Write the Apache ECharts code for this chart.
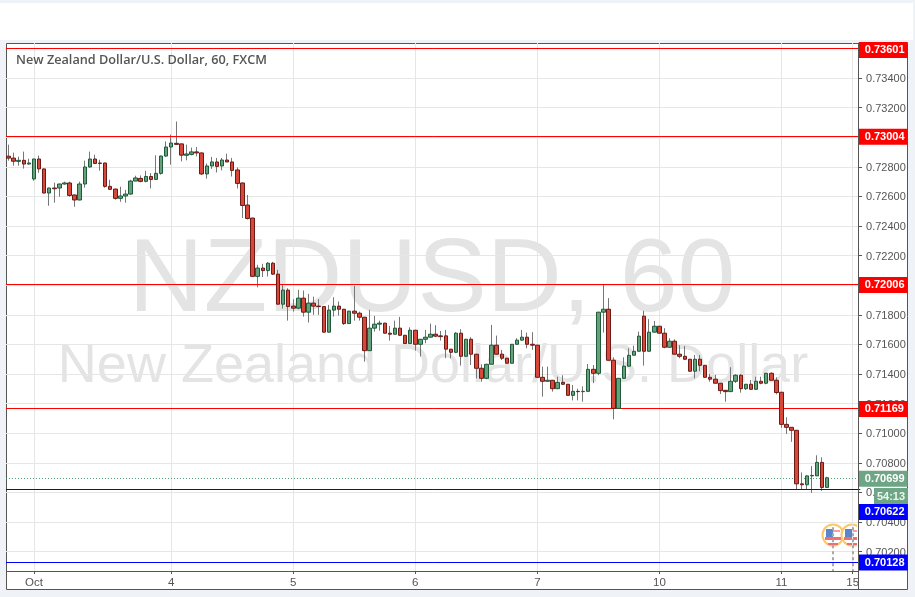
<!DOCTYPE html>
<html>
<head>
<meta charset="utf-8">
<style>html,body{margin:0;padding:0;background:#eff3f8}#c{width:915px;height:597px}</style>
<script src="https://cdn.jsdelivr.net/npm/echarts@6/dist/echarts.min.js"></script>
</head>
<body>
<div id="c"></div>
<script>
var opens=[0.72872,0.72859,0.72837,0.72844,0.72819,0.72718,0.72853,0.72786,0.72623,0.72657,
0.72657,0.72684,0.72691,0.72610,0.72576,0.72684,0.72799,0.72853,0.72826,0.72826,
0.72668,0.72650,0.72587,0.72603,0.72616,0.72704,0.72722,0.72702,0.72735,0.72715,
0.72756,0.72873,0.72934,0.72959,0.72955,0.72878,0.72884,0.72901,0.72894,0.72752,
0.72806,0.72833,0.72806,0.72846,0.72833,0.72779,0.72691,0.72542,0.72454,0.72060,
0.72116,0.72099,0.72149,0.72075,0.71872,0.71967,0.71859,0.71845,0.71913,0.71818,
0.71879,0.71859,0.71856,0.71683,0.71832,0.71859,0.71838,0.71741,0.71825,0.71811,
0.71784,0.71558,0.71710,0.71737,0.71744,0.71676,0.71669,0.71710,0.71662,0.71606,
0.71696,0.71601,0.71635,0.71649,0.71669,0.71658,0.71658,0.71568,0.71547,0.71676,
0.71520,0.71635,0.71534,0.71439,0.71371,0.71466,0.71595,0.71534,0.71507,0.71473,
0.71601,0.71629,0.71649,0.71601,0.71595,0.71378,0.71351,0.71358,0.71301,0.71344,
0.71331,0.71256,0.71283,0.71281,0.71283,0.71432,0.71405,0.71818,0.71838,0.71493,
0.71168,0.71371,0.71453,0.71527,0.71554,0.71791,0.71554,0.71683,0.71723,0.71676,
0.71581,0.71622,0.71534,0.71520,0.71500,0.71419,0.71500,0.71459,0.71378,0.71365,
0.71338,0.71290,0.71281,0.71351,0.71392,0.71301,0.71331,0.71297,0.71351,0.71338,
0.71405,0.71358,0.71277,0.71060,0.71040,0.71020,0.70658,0.70652,0.70712,0.70712,
0.70803,0.70634];
var closes=[0.72859,0.72838,0.72844,0.72819,0.72826,0.72853,0.72786,0.72623,0.72657,0.72652,
0.72684,0.72691,0.72607,0.72576,0.72684,0.72799,0.72853,0.72823,0.72823,0.72668,
0.72648,0.72587,0.72603,0.72616,0.72704,0.72725,0.72702,0.72735,0.72715,0.72756,
0.72873,0.72934,0.72961,0.72952,0.72879,0.72887,0.72901,0.72894,0.72752,0.72806,
0.72833,0.72803,0.72846,0.72833,0.72776,0.72688,0.72539,0.72451,0.72060,0.72116,
0.72099,0.72149,0.72075,0.71872,0.71967,0.71856,0.71845,0.71913,0.71818,0.71879,
0.71859,0.71856,0.71683,0.71832,0.71859,0.71838,0.71741,0.71825,0.71811,0.71784,
0.71558,0.71710,0.71737,0.71744,0.71676,0.71669,0.71710,0.71662,0.71606,0.71696,
0.71601,0.71635,0.71649,0.71669,0.71656,0.71653,0.71568,0.71547,0.71676,0.71520,
0.71635,0.71534,0.71439,0.71371,0.71466,0.71595,0.71534,0.71507,0.71473,0.71601,
0.71629,0.71649,0.71601,0.71595,0.71378,0.71351,0.71358,0.71301,0.71344,0.71331,
0.71256,0.71283,0.71281,0.71283,0.71432,0.71405,0.71818,0.71838,0.71493,0.71168,
0.71371,0.71453,0.71527,0.71554,0.71656,0.71554,0.71683,0.71723,0.71676,0.71581,
0.71622,0.71534,0.71520,0.71500,0.71419,0.71500,0.71459,0.71378,0.71365,0.71338,
0.71288,0.71281,0.71351,0.71392,0.71301,0.71331,0.71297,0.71351,0.71338,0.71405,
0.71358,0.71275,0.71060,0.71040,0.71020,0.70658,0.70652,0.70712,0.70715,0.70803,
0.70634,0.70699];
var highs=[0.72950,0.72896,0.72869,0.72903,0.72855,0.72855,0.72876,0.72788,0.72659,0.72693,
0.72686,0.72700,0.72700,0.72612,0.72700,0.72842,0.72903,0.72882,0.72848,0.72828,
0.72713,0.72652,0.72666,0.72645,0.72713,0.72740,0.72742,0.72774,0.72758,0.72878,
0.72876,0.72972,0.73018,0.73106,0.72957,0.72950,0.72930,0.72934,0.72896,0.72823,
0.72867,0.72860,0.72860,0.72889,0.72860,0.72796,0.72695,0.72610,0.72456,0.72138,
0.72145,0.72156,0.72158,0.72104,0.72003,0.71980,0.71906,0.71969,0.71964,0.71942,
0.71923,0.71906,0.71857,0.71867,0.71919,0.71890,0.71840,0.71827,0.71996,0.71822,
0.71786,0.71834,0.71793,0.71761,0.71746,0.71725,0.71761,0.71786,0.71664,0.71716,
0.71698,0.71637,0.71698,0.71741,0.71730,0.71691,0.71698,0.71570,0.71683,0.71703,
0.71637,0.71649,0.71536,0.71466,0.71468,0.71732,0.71660,0.71563,0.71509,0.71603,
0.71642,0.71698,0.71680,0.71683,0.71597,0.71450,0.71450,0.71360,0.71382,0.71392,
0.71333,0.71326,0.71301,0.71317,0.71468,0.71461,0.71820,0.72007,0.71913,0.71513,
0.71373,0.71513,0.71574,0.71592,0.71687,0.71827,0.71771,0.71759,0.71725,0.71710,
0.71642,0.71635,0.71595,0.71590,0.71502,0.71529,0.71529,0.71461,0.71401,0.71394,
0.71340,0.71292,0.71446,0.71399,0.71399,0.71333,0.71360,0.71382,0.71382,0.71407,
0.71412,0.71378,0.71279,0.71108,0.71042,0.71022,0.70735,0.70714,0.70778,0.70851,
0.70837,0.70706];
var lows=[0.72842,0.72808,0.72808,0.72788,0.72815,0.72706,0.72760,0.72622,0.72537,0.72558,
0.72598,0.72679,0.72598,0.72530,0.72574,0.72659,0.72794,0.72821,0.72774,0.72659,
0.72645,0.72578,0.72564,0.72558,0.72612,0.72703,0.72695,0.72695,0.72654,0.72713,
0.72747,0.72867,0.72815,0.72950,0.72837,0.72844,0.72878,0.72871,0.72745,0.72720,
0.72786,0.72762,0.72776,0.72832,0.72735,0.72654,0.72454,0.72444,0.72059,0.71986,
0.72055,0.72059,0.72070,0.71871,0.71842,0.71761,0.71822,0.71838,0.71788,0.71748,
0.71800,0.71800,0.71681,0.71681,0.71788,0.71795,0.71732,0.71739,0.71761,0.71761,
0.71484,0.71556,0.71687,0.71693,0.71675,0.71626,0.71666,0.71658,0.71604,0.71604,
0.71558,0.71518,0.71608,0.71647,0.71649,0.71626,0.71507,0.71507,0.71541,0.71457,
0.71519,0.71461,0.71371,0.71348,0.71365,0.71465,0.71533,0.71495,0.71472,0.71472,
0.71600,0.71627,0.71574,0.71563,0.71377,0.71247,0.71350,0.71281,0.71299,0.71326,
0.71252,0.71222,0.71222,0.71213,0.71282,0.71338,0.71392,0.71680,0.71492,0.71094,
0.71167,0.71370,0.71452,0.71526,0.71553,0.71457,0.71553,0.71681,0.71675,0.71574,
0.71580,0.71533,0.71507,0.71495,0.71418,0.71371,0.71419,0.71377,0.71348,0.71336,
0.71265,0.71213,0.71279,0.71340,0.71274,0.71292,0.71292,0.71292,0.71331,0.71331,
0.71357,0.71263,0.71037,0.70995,0.70942,0.70620,0.70620,0.70620,0.70597,0.70711,
0.70611,0.70633];
var dayLabels=['Oct','4','5','6','7','10','11','15'];
var dayIndex=[5,32,56,80,104,128,152,166];
var slotCount=168;
var priceTicks=[0.702,0.704,0.706,0.708,0.710,0.712,0.714,0.716,0.718,0.720,0.722,0.724,0.726,0.728,0.730,0.732,0.734,0.736];
var redLevels=[0.73601,0.73004,0.72006,0.71169];
var blueLevels=[0.70622,0.70128];
var lastPrice=0.70699;
var eventSlots=[162,166];
var countdown='54:13';
var titleText='New Zealand Dollar/U.S. Dollar, 60, FXCM';
var watermark1='NZDUSD, 60';
var watermark2='New Zealand Dollar/U.S. Dollar';
var yMin=0.700692,yMax=0.736368;

var categories=[];
for(var k=0;k<slotCount;k++){var p=dayIndex.indexOf(k);categories.push(p>=0?dayLabels[p]:'');}
function labelled(i){return dayIndex.indexOf(i)>=0;}

var wickData=opens.map(function(o,i){return [o,closes[i],lows[i],highs[i]];});
var bodyData=opens.map(function(o,i){var c=closes[i];return [o,c,Math.min(o,c),Math.max(o,c)];});

function tag(bg,off){
  return {show:true,position:'end',distance:0,offset:off,formatter:function(p){return p.value.toFixed(5);},
    color:'#fff',fontFamily:'Liberation Sans',fontWeight:'bold',fontSize:11,backgroundColor:bg,
    padding:[2,3,2,6],width:40,height:12,lineHeight:12,align:'left'};
}
var levelLines=[];
var redOff=[[-1.5,1.7],[-1.5,0.2],[-1.5,0.7],[-1.5,0.7]];
redLevels.forEach(function(v,i){levelLines.push({yAxis:v,lineStyle:{color:'#ff0000',width:1,type:'solid'},label:tag('#ff0000',redOff[i])});});
levelLines.push({yAxis:blueLevels[0],lineStyle:{color:'#0000ff',width:1,type:'solid'},label:tag('#0000ff',[-1.5,22.8])});
levelLines.push({yAxis:blueLevels[1],lineStyle:{color:'#0000ff',width:1,type:'solid'},label:tag('#0000ff',[-1.5,0.2])});
levelLines.push({yAxis:lastPrice,lineStyle:{color:'#4f9a72',width:1,type:[1,2]},label:tag('#6ea585',[-1.5,1])});
var eventTop=0.70365,eventLines=eventSlots.map(function(s){
  return [{coord:[s,eventTop]},{coord:[s,yMin],lineStyle:{color:'#a8a8a8',width:2,type:[3,3]},label:{show:false}}];
});

function flag(cx,cy){
  return {type:'group',x:cx,y:cy,z:20,children:[
    {type:'circle',shape:{cx:0,cy:0,r:10.5},style:{fill:'#fff',stroke:'#fbc767',lineWidth:2}},
    {type:'rect',shape:{x:-8,y:2,width:16,height:3},style:{fill:'#ee6f6f'}},
    {type:'rect',shape:{x:-5,y:8,width:10,height:2},style:{fill:'#ee6f6f'}},
    {type:'rect',shape:{x:0,y:-5,width:7,height:2},style:{fill:'#f2a0a0'}},
    {type:'rect',shape:{x:-7,y:-6,width:7,height:8},style:{fill:'#5b86cc'}}
  ]};
}

var chart=echarts.init(document.getElementById('c'),null,{renderer:'canvas'});
chart.setOption({
  animation:false,
  backgroundColor:'#eff3f8',
  title:{text:titleText,left:11,top:49,textStyle:{fontFamily:'Open Sans',fontWeight:600,fontSize:12.7,color:'#555'},z:10},
  grid:{left:5.96,top:43,width:854.3,height:528,show:false},
  xAxis:{type:'category',data:categories,boundaryGap:true,
    axisLine:{show:false},
    axisTick:{show:true,length:3,alignWithLabel:true,interval:labelled,lineStyle:{color:'#555'}},
    axisLabel:{show:true,interval:labelled,margin:6,fontFamily:'Liberation Sans',fontSize:11.5,color:'#555',hideOverlap:false},
    splitLine:{show:true,alignWithLabel:true,interval:labelled,lineStyle:{color:'#e6e6e6',width:1}}
  },
  yAxis:{type:'value',position:'right',offset:-2.2,min:yMin,max:yMax,
    axisLine:{show:false},
    axisTick:{show:true,length:4,customValues:priceTicks,lineStyle:{color:'#555'}},
    axisLabel:{margin:8,customValues:priceTicks,
      formatter:function(v){return '{a|'+v.toFixed(5)+'}';},
      rich:{a:{fontFamily:'Liberation Sans',fontSize:11,color:'#555',padding:[2,0,0,0]}}},
    splitLine:{show:true,customValues:priceTicks,lineStyle:{color:'#e6e6e6',width:1}}
  },
  graphic:[
    {type:'rect',z:-10,silent:true,shape:{x:0,y:3,width:913,height:37},style:{fill:'#fff'}},
    {type:'rect',z:-10,silent:true,shape:{x:6.5,y:43.5,width:901,height:546},style:{fill:'#fff',stroke:'#555',lineWidth:1}},
    {type:'text',z:-5,silent:true,x:432,y:282,style:{text:watermark1,align:'center',verticalAlign:'middle',font:'104px "Liberation Sans"',fill:'#e4e4e4'}},
    {type:'text',z:-5,silent:true,x:433,y:367,style:{text:watermark2,align:'center',verticalAlign:'middle',font:'54px "Liberation Sans"',fill:'#e4e4e4'}},
    {type:'line',z:25,silent:true,shape:{x1:6,y1:571.5,x2:858,y2:571.5},style:{stroke:'#555',lineWidth:1}},
    {type:'line',z:25,silent:true,shape:{x1:858.5,y1:43,x2:858.5,y2:590},style:{stroke:'#555',lineWidth:1}},
    flag(833,535),flag(852,535),
    {type:'rect',z:21,silent:true,shape:{x:857,y:524,width:7,height:24},style:{fill:'#fff'}},
    {type:'rect',z:22,silent:true,shape:{x:874,y:488,width:34,height:16},style:{fill:'#6ea585'}},
    {type:'text',z:23,silent:true,x:891,y:496.5,style:{text:countdown,align:'center',verticalAlign:'middle',font:'bold 11px "Liberation Sans"',fill:'#eef5f0'}}
  ],
  series:[
    {type:'candlestick',name:'wicks',data:wickData,barWidth:1,z:3,silent:true,
      itemStyle:{color:'#777',color0:'#777',borderColor:'#777',borderColor0:'#777',borderWidth:1},
      markLine:{silent:true,symbol:'none',animation:false,precision:5,data:levelLines.concat(eventLines),z:4}},
    {type:'candlestick',name:'bodies',data:bodyData,barWidth:4,z:5,silent:true,
      itemStyle:{color:'#66a17b',color0:'#d8483a',borderColor:'#1f5a3b',borderColor0:'#6b1a15',borderWidth:1}}
  ]
});
</script>
</body>
</html>
